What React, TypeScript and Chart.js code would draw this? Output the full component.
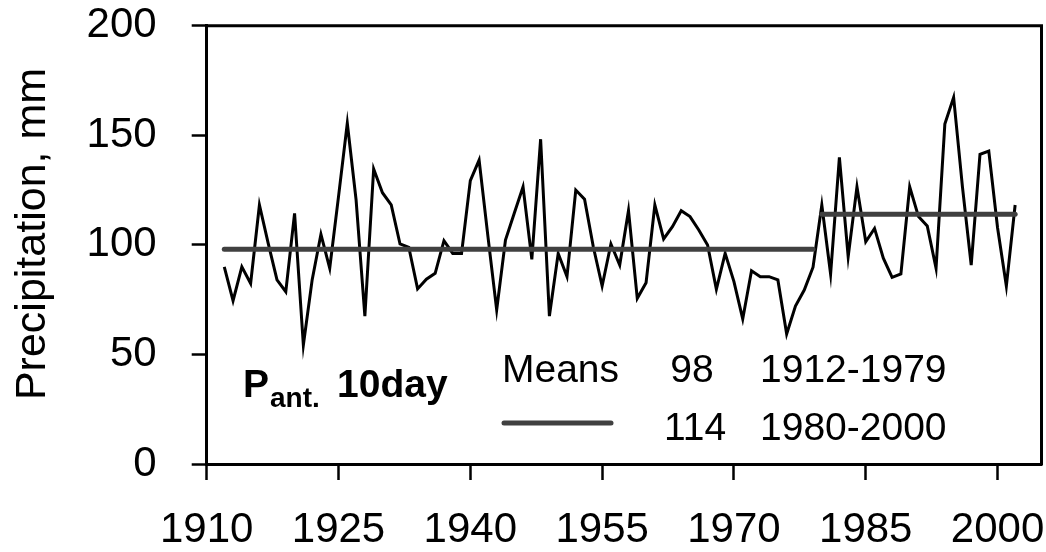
import React, { useEffect, useRef } from "react";
import { Chart, registerables } from "chart.js";

Chart.register(...registerables);

const years: number[] = [
  1912, 1913, 1914, 1915, 1916, 1917, 1918, 1919, 1920, 1921,
  1922, 1923, 1924, 1925, 1926, 1927, 1928, 1929, 1930, 1931,
  1932, 1933, 1934, 1935, 1936, 1937, 1938, 1939, 1940, 1941,
  1942, 1943, 1944, 1945, 1946, 1947, 1948, 1949, 1950, 1951,
  1952, 1953, 1954, 1955, 1956, 1957, 1958, 1959, 1960, 1961,
  1962, 1963, 1964, 1965, 1966, 1967, 1968, 1969, 1970, 1971,
  1972, 1973, 1974, 1975, 1976, 1977, 1978, 1979, 1980, 1981,
  1982, 1983, 1984, 1985, 1986, 1987, 1988, 1989, 1990, 1991,
  1992, 1993, 1994, 1995, 1996, 1997, 1998, 1999, 2000, 2001,
  2002,
];

const precipitation: number[] = [
  90, 74.5, 90, 82.4, 118.2, 100.7, 84, 78.6, 114.4, 54.3,
  84, 104.8, 89.3, 122, 155.5, 120.5, 67.5, 134.6, 123.8, 118.2,
  100.4, 98.9, 79.9, 84.3, 87, 101.9, 96.1, 96.1, 129.3, 138.7,
  104, 70.3, 102.2, 114.4, 126.5, 93.4, 148.2, 67.5, 96.1, 85.5,
  125, 120.8, 99, 81.2, 100.4, 90.8, 115.6, 75.6, 82.7, 118.2,
  102.7, 108.3, 115.6, 112.9, 106.8, 99.9, 79.7, 96.1, 83.2, 66.2,
  88.2, 85.5, 85.5, 84, 59.3, 72.1, 79.4, 89.8, 118.2, 86.7,
  139.9, 94.6, 126.5, 101.4, 107.5, 93.9, 85.2, 86.7, 126.5, 112.9,
  108.6, 89.3, 155.1, 167.3, 126.6, 90.8, 141.3, 142.8, 107.8, 81.2,
  118.2,
];

const meanPeriod1Years: number[] = [1912, 1979];
const meanPeriod1Value = 98;
const meanPeriod2Years: number[] = [1980, 2002];
const meanPeriod2Value = 114;

const xTickValues: number[] = [1910, 1925, 1940, 1955, 1970, 1985, 2000];
const yTickValues: number[] = [0, 50, 100, 150, 200];

const FONT = '"Liberation Sans", Arial, Helvetica, sans-serif';
const MEAN_COLOR = "#404040";

const annotationPlugin = {
  id: "frameAndAnnotations",
  afterDraw(chart: any) {
    const { ctx, chartArea } = chart;
    ctx.save();
    ctx.strokeStyle = "#000";
    ctx.lineWidth = 3;
    ctx.lineCap = "square";
    ctx.beginPath();
    ctx.moveTo(chartArea.left, chartArea.top);
    ctx.lineTo(chartArea.right, chartArea.top);
    ctx.lineTo(chartArea.right, chartArea.bottom);
    ctx.stroke();

    ctx.fillStyle = "#000";

    // y-axis title
    ctx.save();
    ctx.translate(33, 234);
    ctx.rotate(-Math.PI / 2);
    ctx.textAlign = "center";
    ctx.textBaseline = "middle";
    ctx.font = `43px ${FONT}`;
    ctx.fillText("Precipitation, mm", 0, 0);
    ctx.restore();

    ctx.textBaseline = "alphabetic";
    ctx.textAlign = "left";
    ctx.font = `bold 39px ${FONT}`;
    ctx.fillText("P", 243, 397);
    const pW = ctx.measureText("P").width;
    ctx.font = `bold 28px ${FONT}`;
    ctx.fillText("ant.", 243 + pW + 1, 407);
    ctx.font = `bold 39px ${FONT}`;
    ctx.fillText("10day", 337, 397);

    ctx.font = `39px ${FONT}`;
    ctx.fillText("Means", 502, 382);
    ctx.fillText("1912-1979", 760, 382);
    ctx.fillText("1980-2000", 760, 440);
    ctx.textAlign = "center";
    ctx.fillText(String(meanPeriod1Value), 692, 382);
    ctx.fillText(String(meanPeriod2Value), 695, 440);

    ctx.strokeStyle = MEAN_COLOR;
    ctx.lineWidth = 5;
    ctx.lineCap = "round";
    ctx.beginPath();
    ctx.moveTo(504, 423);
    ctx.lineTo(611, 423);
    ctx.stroke();
    ctx.restore();
  },
};

export default function App() {
  const canvasRef = useRef<HTMLCanvasElement | null>(null);

  useEffect(() => {
    document.body.style.margin = "0";
    const canvas = canvasRef.current;
    if (!canvas) return;

    const chart = new Chart(canvas, {
      type: "line",
      data: {
        datasets: [
          {
            label: "Mean 1912-1979",
            data: meanPeriod1Years.map((x) => ({ x, y: meanPeriod1Value })),
            borderColor: MEAN_COLOR,
            borderWidth: 5,
            borderCapStyle: "round",
            pointRadius: 0,
            order: 0,
          },
          {
            label: "Mean 1980-2000",
            data: meanPeriod2Years.map((x) => ({ x, y: meanPeriod2Value })),
            borderColor: MEAN_COLOR,
            borderWidth: 5,
            borderCapStyle: "round",
            pointRadius: 0,
            order: 0,
          },
          {
            label: "Precipitation",
            data: years.map((x, i) => ({ x, y: precipitation[i] })),
            borderColor: "#000",
            borderWidth: 3,
            pointRadius: 0,
            tension: 0,
            order: 1,
          },
        ],
      },
      options: {
        responsive: false,
        animation: false,
        events: [],
        layout: {
          autoPadding: false,
          padding: { left: 0, right: 4.5, top: 25.7, bottom: 0 },
        },
        plugins: {
          legend: { display: false },
          tooltip: { enabled: false },
          title: { display: false },
        },
        scales: {
          x: {
            type: "linear",
            min: 1910,
            max: 2005,
            afterBuildTicks: (scale: any) => {
              scale.ticks = xTickValues.map((v) => ({ value: v }));
            },
            afterFit: (scale: any) => {
              scale.height = 88;
              scale.paddingLeft = 0;
              scale.paddingRight = 0;
              scale.paddingTop = 0;
              scale.paddingBottom = 0;
            },
            border: { display: true, color: "#000", width: 3 },
            grid: {
              drawOnChartArea: false,
              drawTicks: true,
              tickLength: 16,
              tickWidth: 2.5,
              tickColor: "#000",
            },
            ticks: {
              color: "#000",
              font: { family: FONT, size: 42 },
              padding: 25,
              maxRotation: 0,
              autoSkip: false,
              callback: (v: any) => String(v),
            },
          },
          y: {
            type: "linear",
            min: 0,
            max: 200,
            afterBuildTicks: (scale: any) => {
              scale.ticks = yTickValues.map((v) => ({ value: v }));
            },
            afterFit: (scale: any) => {
              scale.width = 206.7;
              scale.paddingLeft = 0;
              scale.paddingRight = 0;
              scale.paddingTop = 0;
              scale.paddingBottom = 0;
            },
            border: { display: true, color: "#000", width: 3 },
            grid: {
              drawOnChartArea: false,
              drawTicks: true,
              tickLength: 15,
              tickWidth: 2.5,
              tickColor: "#000",
            },
            ticks: {
              color: "#000",
              font: { family: FONT, size: 42 },
              padding: 35,
              callback: (v: any) => String(v),
            },
          },
        },
      },
      plugins: [annotationPlugin],
    } as any);

    return () => chart.destroy();
  }, []);

  return (
    <div style={{ width: 1046, height: 552, background: "#fff" }}>
      <canvas ref={canvasRef} width={1046} height={552} />
    </div>
  );
}
